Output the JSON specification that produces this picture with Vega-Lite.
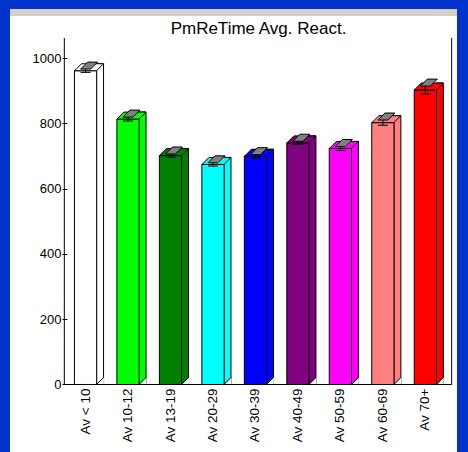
{
  "$schema": "https://vega.github.io/schema/vega-lite/v6.json",
  "width": 447,
  "height": 443,
  "autosize": {"type": "none"},
  "padding": {"left": 10, "top": 9, "right": 11, "bottom": 0},
  "background": "#0033cc",
  "config": {"view": {"fill": "white", "stroke": null}, "font": "Liberation Sans"},
  "title": {"text": "PmReTime Avg. React.", "fontSize": 17, "font": "Liberation Sans", "fontWeight": "normal", "color": "black", "anchor": "middle", "baseline": "alphabetic", "offset": -42, "dx": 25},
  "data": {"values": [
    {"group": "Av < 10", "reaction": 961, "low": 956, "high": 966},
    {"group": "Av 10-12", "reaction": 813, "low": 807, "high": 819},
    {"group": "Av 13-19", "reaction": 701, "low": 696, "high": 706},
    {"group": "Av 20-29", "reaction": 674, "low": 669, "high": 679},
    {"group": "Av 30-39", "reaction": 699, "low": 694, "high": 704},
    {"group": "Av 40-49", "reaction": 740, "low": 735, "high": 745},
    {"group": "Av 50-59", "reaction": 723, "low": 717, "high": 729},
    {"group": "Av 60-69", "reaction": 802, "low": 794, "high": 810},
    {"group": "Av 70+", "reaction": 902, "low": 890, "high": 914}
  ]},
  "layer": [
    {
      "data": {"values": [{}]},
      "mark": {"type": "rect", "fill": "#d4d0c8"},
      "encoding": {
        "y": {"datum": 1150.08, "type": "quantitative"},
        "y2": {"datum": 1128.6}
      }
    },
    {
      "mark": {"type": "bar", "width": 7, "xOffset": 14.5, "yOffset": -7, "stroke": "black", "strokeWidth": 1},
      "encoding": {
        "x": {"field": "group", "type": "nominal", "sort": null,
          "scale": {"domain": ["Av < 10", "Av 10-12", "Av 13-19", "Av 20-29", "Av 30-39", "Av 40-49", "Av 50-59", "Av 60-69", "Av 70+"], "paddingInner": 0.47619, "paddingOuter": 1.05952, "align": 0.758427, "round": false},
          "axis": {"title": null, "orient": "bottom", "offset": -67, "domain": false, "ticks": false, "grid": false, "labelAngle": -90, "labelAlign": "right", "labelBaseline": "middle", "labelPadding": 3, "labelFont": "Liberation Sans", "labelFontSize": 13.5, "labelColor": "black"}},
        "y": {"field": "reaction", "type": "quantitative", "stack": null,
          "scale": {"domain": [-206.74, 1150.08], "nice": false, "zero": false},
          "axis": {"title": null, "orient": "left", "offset": -57, "domain": false, "ticks": true, "tickSize": 5, "tickColor": "black", "grid": false, "values": [0, 200, 400, 600, 800, 1000], "format": "d", "labelFont": "Liberation Sans", "labelFontSize": 13, "labelColor": "black", "labelPadding": 1}},
        "y2": {"datum": 0},
        "color": {"field": "group", "type": "nominal", "legend": null,
          "scale": {"domain": ["Av < 10", "Av 10-12", "Av 13-19", "Av 20-29", "Av 30-39", "Av 40-49", "Av 50-59", "Av 60-69", "Av 70+"], "range": ["#ffffff", "#00ff00", "#008000", "#00ffff", "#0000ff", "#800080", "#ff00ff", "#ff8080", "#ff0000"]}}
      }
    },
    {
      "mark": {"type": "point", "shape": "M -1.1 1.1 L 1.1 -1.1 L 1.1 1.1 Z", "size": 49, "filled": true, "fill": "white", "strokeWidth": 0, "opacity": 1, "xOffset": 14.5, "yOffset": -3.5},
      "encoding": {
        "x": {"field": "group", "type": "nominal"},
        "y": {"datum": 0, "type": "quantitative"}
      }
    },
    {
      "mark": {"type": "point", "shape": "M -1 1 L 1 -1", "size": 49, "filled": false, "stroke": "black", "strokeWidth": 1, "opacity": 1, "xOffset": 14.5, "yOffset": -3.5},
      "encoding": {
        "x": {"field": "group", "type": "nominal"},
        "y": {"datum": 0, "type": "quantitative"}
      }
    },
    {
      "mark": {"type": "bar", "stroke": "black", "strokeWidth": 1},
      "encoding": {
        "x": {"field": "group", "type": "nominal"},
        "y": {"field": "reaction", "type": "quantitative", "stack": null},
        "y2": {"datum": 0},
        "color": {"field": "group", "type": "nominal", "legend": null}
      }
    },
    {
      "mark": {"type": "point", "shape": "M -1 0.2414 L 0.5172 0.2414 L 1 -0.2414 L -0.5172 -0.2414 Z", "size": 841, "filled": true, "opacity": 1, "stroke": "black", "strokeWidth": 1, "xOffset": 3.5, "yOffset": -3.5},
      "encoding": {
        "x": {"field": "group", "type": "nominal"},
        "y": {"field": "reaction", "type": "quantitative", "stack": null},
        "color": {"field": "group", "type": "nominal", "legend": null}
      }
    },
    {
      "mark": {"type": "rule", "color": "black", "strokeWidth": 1},
      "encoding": {
        "x": {"field": "group", "type": "nominal"},
        "y": {"field": "low", "type": "quantitative"},
        "y2": {"field": "high"}
      }
    },
    {
      "mark": {"type": "tick", "color": "black", "thickness": 1, "size": 10, "opacity": 1},
      "encoding": {
        "x": {"field": "group", "type": "nominal"},
        "y": {"field": "low", "type": "quantitative"}
      }
    },
    {
      "mark": {"type": "point", "shape": "M -1 0.4118 L 0.1765 0.4118 L 1 -0.4118 L -0.1765 -0.4118 Z", "size": 289, "filled": true, "fill": "#808080", "stroke": "black", "strokeWidth": 1, "opacity": 1, "xOffset": 3.5, "yOffset": -3.5},
      "encoding": {
        "x": {"field": "group", "type": "nominal"},
        "y": {"field": "high", "type": "quantitative"}
      }
    },
    {
      "data": {"values": [{}]},
      "mark": {"type": "rule", "color": "black", "strokeWidth": 1},
      "encoding": {
        "x": {"datum": "Av < 10", "type": "nominal", "bandPosition": -0.4545},
        "y": {"datum": 0, "type": "quantitative"},
        "y2": {"datum": 1061}
      }
    },
    {
      "data": {"values": [{}]},
      "mark": {"type": "rule", "color": "black", "strokeWidth": 1},
      "encoding": {
        "x": {"datum": "Av 70+", "type": "nominal", "bandPosition": 1.6818},
        "y": {"datum": 0, "type": "quantitative"},
        "y2": {"datum": 1061}
      }
    },
    {
      "data": {"values": [{}]},
      "mark": {"type": "rule", "color": "black", "strokeWidth": 1},
      "encoding": {
        "x": {"datum": "Av < 10", "type": "nominal", "bandPosition": -0.4545},
        "x2": {"datum": "Av 70+", "bandPosition": 1.6818},
        "y": {"datum": 0, "type": "quantitative"}
      }
    }
  ]
}
